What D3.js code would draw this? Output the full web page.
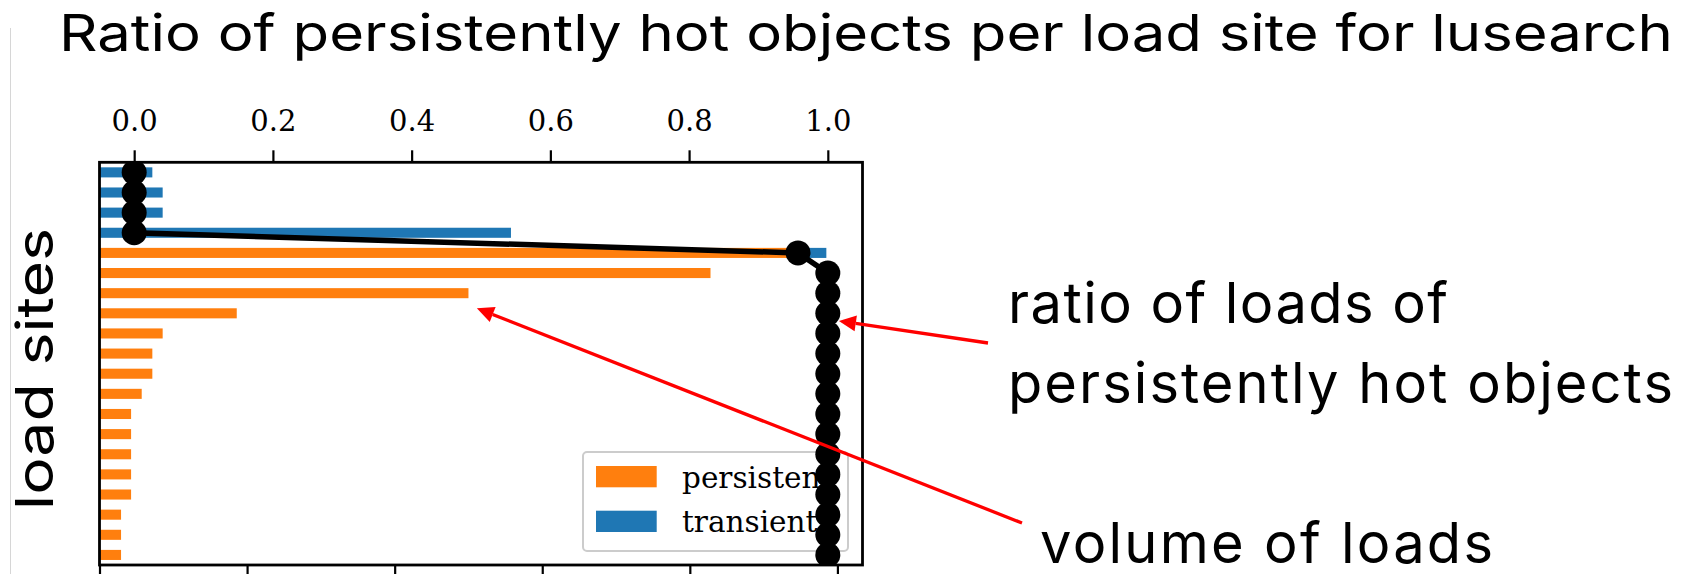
<!DOCTYPE html>
<html>
<head>
<meta charset="utf-8">
<script src="https://cdn.jsdelivr.net/npm/d3@7"></script>
<style>
  body { margin: 0; background: #fff; }
  svg { display: block; }
</style>
</head>
<body>
<script>
// load sites, top to bottom
const sites = [1, 2, 3, 4, 5, 6, 7, 8, 9, 10, 11, 12, 13, 14, 15, 16, 17, 18, 19, 20];

// volume of loads per site (bottom axis), split into persistent / transient
const persistent = [0, 0, 0, 0, 0.471, 0.414, 0.250, 0.093, 0.0428, 0.0358,
                    0.0358, 0.0286, 0.0214, 0.0214, 0.0214, 0.0214, 0.0214, 0.0146, 0.0146, 0.0146];
const transient  = [0.0358, 0.0428, 0.0428, 0.2788, 0.0215, 0, 0, 0, 0, 0,
                    0, 0, 0, 0, 0, 0, 0, 0, 0, 0];

// ratio of loads of persistently hot objects (top axis)
const ratio = [0, 0, 0, 0, 0.957, 1, 1, 1, 1, 1, 1, 1, 1, 1, 1, 1, 1, 1, 1, 1];

const topTicks = [0, 0.2, 0.4, 0.6, 0.8, 1.0];
const bottomTicks = [0, 0.1, 0.2, 0.3, 0.4, 0.5];
const legendItems = ["persistent", "transient"];

const W = 1681, H = 574;
const box = {left: 99.5, right: 862.5, top: 162.3, bottom: 565};
const orange = "#ff7f0e", blue = "#1f77b4";
const serif = "'DejaVu Serif', serif";
const sans = "Inter, 'Open Sans', sans-serif";

const svg = d3.select("body").append("svg")
    .attr("width", W)
    .attr("height", H);

// scales
const xTop = d3.scaleLinear().domain([-0.05, 1.05]).range([box.left, box.right]);
const xBot = d3.scaleLinear().domain([0, 0.517]).range([box.left, box.right]);
const y = d3.scaleLinear().domain([-0.5, sites.length - 0.5]).range([box.top, box.bottom]);

// faint slide edge on the left
svg.append("line")
    .attr("x1", 10.5).attr("x2", 10.5)
    .attr("y1", 28).attr("y2", H)
    .attr("stroke", "#d6d6d6").attr("stroke-width", 1);

// title
svg.append("text")
    .attr("x", 59).attr("y", 51)
    .attr("font-family", sans)
    .attr("font-size", 51)
    .attr("textLength", 1614)
    .attr("lengthAdjust", "spacingAndGlyphs")
    .text("Ratio of persistently hot objects per load site for lusearch");

svg.append("clipPath").attr("id", "plot")
  .append("rect")
    .attr("x", box.left).attr("y", box.top)
    .attr("width", box.right - box.left)
    .attr("height", box.bottom - box.top);

const barH = y(0.25) - y(-0.25);

// persistent bars
svg.append("g").selectAll("rect")
    .data(sites)
  .enter().append("rect")
    .attr("x", xBot(0))
    .attr("y", (d, i) => y(i) - barH / 2)
    .attr("width", (d, i) => xBot(persistent[i]) - xBot(0))
    .attr("height", barH)
    .attr("fill", orange);

// transient bars, stacked after persistent
svg.append("g").selectAll("rect")
    .data(sites)
  .enter().append("rect")
    .attr("x", (d, i) => xBot(persistent[i]))
    .attr("y", (d, i) => y(i) - barH / 2)
    .attr("width", (d, i) => xBot(persistent[i] + transient[i]) - xBot(persistent[i]))
    .attr("height", barH)
    .attr("fill", blue);

// legend
const leg = svg.append("g").attr("transform", "translate(583,452)");
leg.append("rect")
    .attr("width", 265).attr("height", 99)
    .attr("rx", 4)
    .attr("fill", "#fff").attr("fill-opacity", 0.8)
    .attr("stroke", "#cccccc").attr("stroke-width", 2);
leg.selectAll(".sw")
    .data(legendItems)
  .enter().append("rect")
    .attr("x", 13)
    .attr("y", (d, i) => 14 + i * 44.7)
    .attr("width", 60.7).attr("height", 21.3)
    .attr("fill", (d, i) => i === 0 ? orange : blue);
leg.selectAll("text")
    .data(legendItems)
  .enter().append("text")
    .attr("x", 99)
    .attr("y", (d, i) => 36.3 + i * 43.5)
    .attr("font-family", serif)
    .attr("font-size", 29.5)
    .text(d => d);

// ratio line with markers
const plot = svg.append("g").attr("clip-path", "url(#plot)");
const line = d3.line()
    .x((d, i) => xTop(ratio[i]))
    .y((d, i) => y(i));
plot.append("path")
    .datum(sites)
    .attr("d", line)
    .attr("fill", "none")
    .attr("stroke", "#000")
    .attr("stroke-width", 5.5);
plot.selectAll("circle")
    .data(sites)
  .enter().append("circle")
    .attr("cx", (d, i) => xTop(ratio[i]))
    .attr("cy", (d, i) => y(i))
    .attr("r", 12.5)
    .attr("fill", "#000");

// axes frame
svg.append("rect")
    .attr("x", box.left).attr("y", box.top)
    .attr("width", box.right - box.left)
    .attr("height", box.bottom - box.top)
    .attr("fill", "none")
    .attr("stroke", "#000")
    .attr("stroke-width", 2.8);

// top axis: ratio
const gTop = svg.append("g")
    .attr("transform", "translate(0," + box.top + ")")
    .call(d3.axisTop(xTop).tickValues(topTicks).tickSize(12).tickFormat(d3.format(".1f")));
gTop.select(".domain").remove();
gTop.selectAll(".tick line").attr("stroke-width", 2.2);
gTop.selectAll(".tick text")
    .attr("y", -31.5)
    .attr("font-family", serif)
    .attr("font-size", 29)
    .attr("fill", "#000");

// bottom axis: volume (labels fall outside the picture)
const gBot = svg.append("g")
    .attr("transform", "translate(0," + box.bottom + ")")
    .call(d3.axisBottom(xBot).tickValues(bottomTicks).tickSize(12).tickFormat(""));
gBot.select(".domain").remove();
gBot.selectAll(".tick line").attr("stroke-width", 2.2);

// y label
svg.append("text")
    .attr("transform", "translate(53,369) rotate(-90)")
    .attr("text-anchor", "middle")
    .attr("font-family", sans)
    .attr("font-size", 52)
    .attr("textLength", 282)
    .attr("lengthAdjust", "spacingAndGlyphs")
    .text("load sites");

// annotations
const notes = [
  {text: "ratio of loads of", x: 1008, y: 323, len: 440},
  {text: "persistently hot objects", x: 1008, y: 403, len: 665},
  {text: "volume of loads", x: 1040, y: 563, len: 453}
];
svg.selectAll(".note")
    .data(notes)
  .enter().append("text")
    .attr("class", "note")
    .attr("x", d => d.x).attr("y", d => d.y)
    .attr("font-family", sans)
    .attr("font-size", 56)
    .attr("textLength", d => d.len)
    .attr("lengthAdjust", "spacing")
    .text(d => d.text);

// arrows: tip in data coordinates, tail in page pixels
const arrows = [
  {tip: [xTop(1.016), y(7.38)], tail: [988, 343]},
  {tip: [xBot(0.2557), y(6.75)], tail: [1022, 523]}
];
arrows.forEach(a => {
  const [tx, ty] = a.tip, [sx, sy] = a.tail;
  const ang = Math.atan2(ty - sy, tx - sx);
  const hl = 17, hw = 8;
  const bx = tx - hl * Math.cos(ang), by = ty - hl * Math.sin(ang);
  svg.append("line")
      .attr("x1", sx).attr("y1", sy)
      .attr("x2", bx).attr("y2", by)
      .attr("stroke", "#ff0000")
      .attr("stroke-width", 3.3);
  svg.append("path")
      .attr("d", "M" + tx + "," + ty +
                 "L" + (bx + hw * Math.sin(ang)) + "," + (by - hw * Math.cos(ang)) +
                 "L" + (bx - hw * Math.sin(ang)) + "," + (by + hw * Math.cos(ang)) + "Z")
      .attr("fill", "#ff0000");
});
</script>
</body>
</html>
